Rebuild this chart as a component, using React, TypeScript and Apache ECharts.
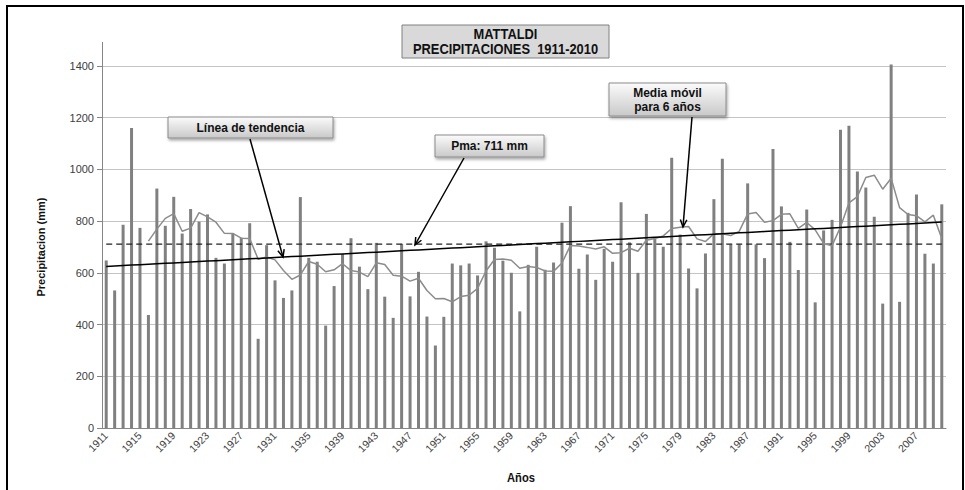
import React, { useEffect, useRef } from "react";
import * as echarts from "echarts";

const FIRST_YEAR = 1911;
const PRECIP: number[] = [
  648, 532, 786, 1160, 774, 437, 926, 782, 894, 752,
  847, 798, 826, 658, 636, 751, 736, 792, 345, 707,
  571, 503, 532, 893, 658, 643, 396, 549, 673, 734,
  624, 537, 716, 508, 426, 712, 509, 604, 431, 319,
  430, 636, 629, 636, 590, 722, 697, 647, 600, 451,
  631, 701, 612, 640, 794, 858, 616, 671, 573, 693,
  643, 873, 718, 600, 828, 737, 701, 1045, 748, 617,
  540, 675, 885, 1041, 710, 710, 946, 710, 657, 1079,
  857, 720, 611, 845, 486, 764, 805, 1153, 1169, 992,
  930, 817, 481, 1406, 488, 832, 903, 674, 636, 865,
];
const YEARS: string[] = PRECIP.map((_, i) => String(FIRST_YEAR + i));
const PMA_MM = 711;
const MA_PERIOD = 6;
const Y_MIN = 0;
const Y_MAX = 1400;
const Y_STEP = 200;

// trailing moving average (as Excel's trendline)
const MOVING_AVG: (number | null)[] = PRECIP.map((_, i) => {
  if (i < MA_PERIOD - 1) return null;
  let s = 0;
  for (let k = i - MA_PERIOD + 1; k <= i; k++) s += PRECIP[k];
  return s / MA_PERIOD;
});

// least-squares linear trend
const TREND: number[] = (() => {
  const n = PRECIP.length;
  const mx = (n - 1) / 2;
  const my = PRECIP.reduce((a, b) => a + b, 0) / n;
  let sxy = 0, sxx = 0;
  PRECIP.forEach((v, i) => { sxy += (i - mx) * (v - my); sxx += (i - mx) * (i - mx); });
  const b = sxy / sxx;
  return PRECIP.map((_, i) => my + b * (i - mx));
})();
const MEAN_LINE: number[] = PRECIP.map(() => PMA_MM);

const FONT = '"Liberation Sans", Arial, sans-serif';

function arrow(x1: number, y1: number, x2: number, y2: number): any[] {
  const ang = Math.atan2(y2 - y1, x2 - x1);
  const L = 8, a = 0.42;
  const p1 = [x2 - L * Math.cos(ang - a), y2 - L * Math.sin(ang - a)];
  const p2 = [x2 - L * Math.cos(ang + a), y2 - L * Math.sin(ang + a)];
  return [
    { type: "line", z: 100, shape: { x1, y1, x2, y2 }, style: { stroke: "#000", lineWidth: 1.5 } },
    { type: "polyline", z: 100, shape: { points: [p1, [x2, y2], p2] }, style: { stroke: "#000", lineWidth: 1.5, fill: "none" } },
  ];
}

function noteBox(x: number, y: number, w: number, h: number, text: string): any[] {
  return [
    {
      type: "rect", z: 100,
      shape: { x, y, width: w, height: h },
      style: {
        fill: new echarts.graphic.LinearGradient(0, 0, 0, 1, [
          { offset: 0, color: "#fbfbfb" },
          { offset: 1, color: "#c9c9c9" },
        ]),
        stroke: "#8a8a8a", lineWidth: 1,
        shadowBlur: 3, shadowOffsetX: 1, shadowOffsetY: 2, shadowColor: "rgba(0,0,0,0.35)",
      },
    },
    {
      type: "text", z: 101,
      style: {
        text, x: x + w / 2, y: y + h / 2,
        align: "center", verticalAlign: "middle",
        textAlign: "center", textVerticalAlign: "middle",
        font: `bold 12px ${FONT}`, fill: "#111", lineHeight: 14,
      },
    },
  ];
}

export default function App() {
  const ref = useRef<HTMLDivElement>(null);
  useEffect(() => {
    if (!ref.current) return;
    const chart = echarts.init(ref.current, null, { renderer: "svg" });
    chart.setOption({
      animation: false,
      backgroundColor: "#fff",
      grid: { left: 102, right: 19, top: 66, bottom: 62, containLabel: false, outerBoundsMode: "none" },
      xAxis: {
        type: "category",
        data: YEARS,
        boundaryGap: true,
        axisLine: { lineStyle: { color: "#868686" } },
        axisTick: { show: false },
        axisLabel: { interval: 3, rotate: 45, fontSize: 10.5, fontFamily: FONT, color: "#404040", margin: 6 },
        splitLine: { show: false },
      },
      yAxis: {
        type: "value",
        min: Y_MIN, max: Y_MAX, interval: Y_STEP,
        name: "Precipitacion (mm)",
        nameLocation: "middle",
        nameGap: 56,
        nameTextStyle: { fontFamily: FONT, fontWeight: "bold", fontSize: 11, color: "#111" },
        axisLine: { show: true, lineStyle: { color: "#868686" } },
        axisTick: { show: true, length: 5, lineStyle: { color: "#868686" } },
        axisLabel: { fontSize: 11, fontFamily: FONT, color: "#404040", margin: 8, formatter: (v: number) => String(v) },
        splitLine: { lineStyle: { color: "#c4c4c4", width: 1 } },
      },
      series: [
        {
          type: "bar", data: PRECIP, barWidth: 3, clip: false,
          itemStyle: { color: "#808080" },
        },
        {
          type: "line", data: MEAN_LINE, symbol: "none", z: 3,
          lineStyle: { color: "#222", width: 1.2, type: [6, 4] },
        },
        {
          type: "line", data: MOVING_AVG, symbol: "none", z: 4,
          lineStyle: { color: "#8c8c8c", width: 1.5 },
        },
        {
          type: "line", data: TREND, symbol: "none", z: 5,
          lineStyle: { color: "#000", width: 1.5 },
        },
      ],
      graphic: [
        { type: "rect", z: 90, shape: { x: 7, y: 6, width: 956, height: 500 }, style: { fill: "none", stroke: "#000", lineWidth: 2 } },
        { type: "line", z: 90, shape: { x1: 102.5, y1: 42, x2: 102.5, y2: 66 }, style: { stroke: "#868686", lineWidth: 1 } },
        { type: "rect", z: 100, shape: { x: 402, y: 25, width: 207, height: 33 }, style: { fill: "#d9d9d9", stroke: "#808080", lineWidth: 1 } },
        {
          type: "text", z: 101, x: 505.5, y: 41.5, scaleX: 0.86,
          style: {
            text: "MATTALDI\nPRECIPITACIONES  1911-2010", x: 0, y: 0,
            align: "center", verticalAlign: "middle", textAlign: "center", textVerticalAlign: "middle",
            font: `bold 15px ${FONT}`, fill: "#111", lineHeight: 15,
          },
        },
        {
          type: "text", z: 101, x: 521, y: 478, scaleX: 0.86,
          style: {
            text: "Años", x: 0, y: 0,
            align: "center", verticalAlign: "middle", textAlign: "center", textVerticalAlign: "middle",
            font: `bold 13px ${FONT}`, fill: "#111",
          },
        },
        ...noteBox(168, 117, 165, 21, "Línea de tendencia"),
        ...noteBox(435, 135, 109, 22, "Pma: 711 mm"),
        ...noteBox(609, 83, 117, 33, "Media móvil\npara 6 años"),
        ...arrow(250, 139, 283, 257),
        ...arrow(464, 158, 415, 245),
        ...arrow(692, 117, 683, 227),
      ],
    });
    return () => chart.dispose();
  }, []);
  return <div ref={ref} style={{ position: "fixed", left: 0, top: 0, width: 965, height: 490 }} />;
}
